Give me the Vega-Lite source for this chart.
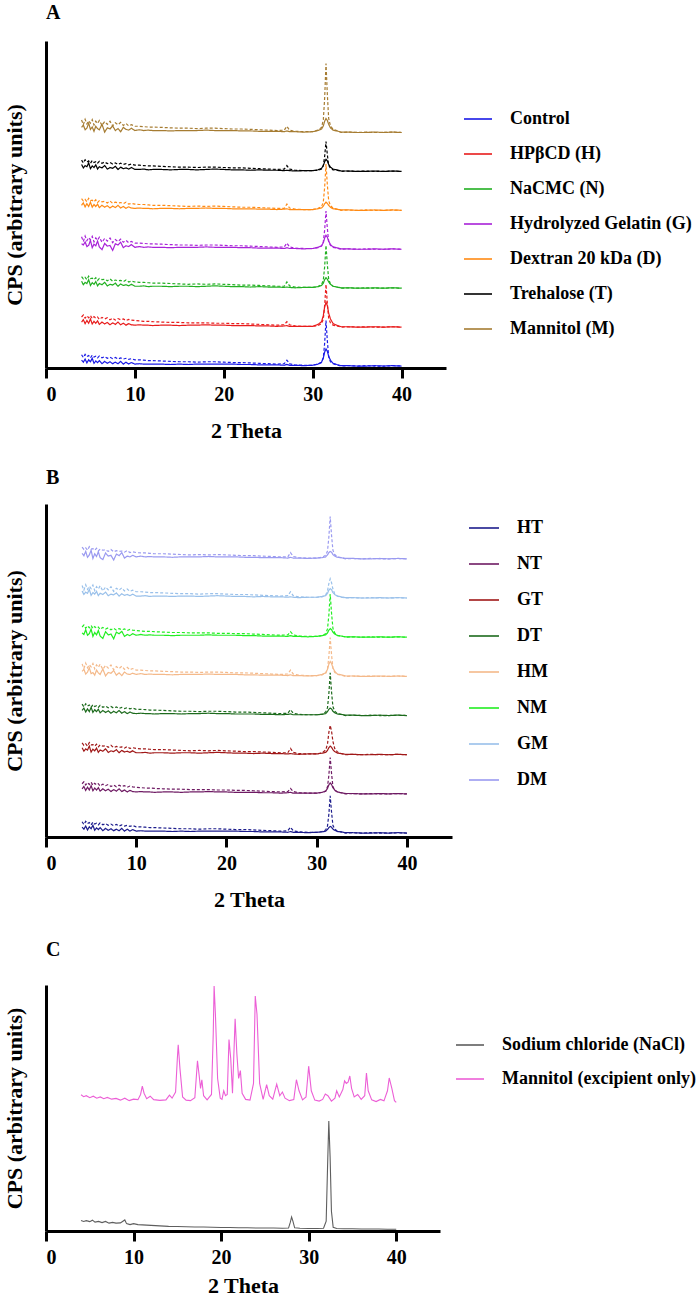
{
  "$schema": "https://vega.github.io/schema/vega-lite/v6.json",
  "padding": {"left": 3, "top": 3, "right": 0, "bottom": 0},
  "config": {
    "font": "Liberation Serif, Times New Roman, serif",
    "view": {"stroke": null},
    "axis": {
      "grid": false,
      "domainColor": "black", "domainWidth": 3,
      "tickColor": "black", "tickWidth": 3, "tickSize": 10,
      "labelFont": "Liberation Serif, Times New Roman, serif", "labelFontWeight": "bold", "labelFontSize": 20, "labelColor": "black", "labelPadding": 6,
      "titleFont": "Liberation Serif, Times New Roman, serif", "titleFontWeight": "bold", "titleFontSize": 22, "titleColor": "black"
    },
    "axisX": {"titlePadding": 16, "labelAngle": 0},
    "axisY": {"ticks": false, "labels": false, "titlePadding": 20},
    "legend": {
      "orient": "none",
      "symbolType": "stroke", "symbolStrokeWidth": 1.6,
      "labelFont": "Liberation Serif, Times New Roman, serif", "labelFontWeight": "bold", "labelFontSize": 18, "labelColor": "black",
      "labelOffset": 17, "labelLimit": 0
    },
    "title": {"font": "Liberation Serif, Times New Roman, serif", "fontSize": 20, "fontWeight": "bold", "anchor": "start", "frame": "group", "color": "black"}
  },
  "datasets": {
    "a": [
      {"sample": "Control",
       "t": [4,4.2,4.4,4.6,4.8,5,5.2,5.4,5.6,5.8,6,6.3,6.6,6.9,7.2,7.5,7.8,8.1,8.4,8.7,9,9.3,9.6,10,10.5,11,11.5,12,13,14,15,16,17,18,19,20,21,22,23,24,25,26,26.8,27.1,27.4,28,29,30,30.6,31,31.2,31.35,31.5,31.65,31.8,32,32.3,32.7,33.2,34,35,36,37,38,39,40],
       "solid": [2.0,1.5,2.3,1.3,2.1,1.6,2.5,1.2,1.8,1.4,1.9,1.1,1.7,1.2,1.6,1.1,1.5,1.1,1.7,1.0,1.5,1.0,1.4,1.0,1.1,1.0,1.0,1.0,1.0,0.9,1.0,0.9,1.0,1.0,1.0,1.0,1.0,0.9,0.9,0.8,0.8,0.8,0.7,0.9,0.7,0.7,0.6,0.7,1.0,1.5,2.6,4.1,4.9,4.3,3.0,2.0,1.2,0.9,0.6,0.6,0.5,0.5,0.6,0.5,0.6,0.5],
       "dashed": [3.4,2.7,3.5,2.9,3.2,2.6,3.3,2.8,3.0,2.6,3.1,2.6,2.9,2.5,2.8,2.4,2.7,2.3,2.6,2.3,2.5,2.2,2.4,2.1,2.1,2.0,1.9,1.9,1.8,1.7,1.6,1.6,1.5,1.6,1.6,1.5,1.4,1.4,1.3,1.2,1.1,1.0,1.1,2.0,1.1,0.8,0.7,0.7,1.0,1.4,2.7,6.4,12.2,7.0,2.9,1.6,1.1,0.8,0.5,0.6,0.5,0.6,0.5,0.5,0.6,0.5]},
      {"sample": "HPβCD (H)",
       "t": [4,4.2,4.4,4.6,4.8,5,5.2,5.4,5.6,5.8,6,6.3,6.6,6.9,7.2,7.5,7.8,8.1,8.4,8.7,9,9.3,9.6,10,10.5,11,11.5,12,13,14,15,16,17,18,19,20,21,22,23,24,25,26,26.8,27.1,27.4,28,29,30,30.6,31,31.2,31.35,31.5,31.65,31.8,32,32.3,32.7,33.2,34,35,36,37,38,39,40],
       "solid": [11.8,12.4,11.4,12.2,11.5,12.6,11.3,12.0,11.5,12.1,11.2,11.8,11.3,11.7,11.1,11.6,11.2,11.8,11.1,11.5,11.0,11.4,11.1,11.0,11.1,11.0,11.0,10.9,11.0,11.0,10.9,11.0,11.0,11.1,11.0,11.0,10.9,10.9,10.9,10.8,10.8,10.7,10.8,10.9,10.7,10.7,10.7,10.7,11.2,11.9,13.5,15.7,16.9,16.0,14.1,12.6,11.4,11.0,10.6,10.6,10.5,10.5,10.6,10.5,10.6,10.5],
       "dashed": [13.1,13.6,12.8,13.4,12.9,13.5,12.7,13.2,12.8,13.1,12.5,13.0,12.6,12.9,12.4,12.8,12.3,12.7,12.4,12.6,12.2,12.5,12.3,12.2,12.1,12.0,12.0,11.9,11.8,11.7,11.7,11.6,11.6,11.6,11.5,11.5,11.4,11.4,11.3,11.2,11.1,11.0,11.1,11.9,11.1,10.8,10.7,10.7,10.9,11.4,12.6,16.1,21.5,16.6,12.8,11.6,11.0,10.8,10.5,10.6,10.5,10.6,10.5,10.5,10.6,10.5]},
      {"sample": "NaCMC (N)",
       "t": [4,4.2,4.4,4.6,4.8,5,5.2,5.4,5.6,5.8,6,6.3,6.6,6.9,7.2,7.5,7.8,8.1,8.4,8.7,9,9.3,9.6,10,10.5,11,11.5,12,13,14,15,16,17,18,19,20,21,22,23,24,25,26,26.8,27.1,27.4,28,29,30,30.6,31,31.2,31.35,31.5,31.65,31.8,32,32.3,32.7,33.2,34,35,36,37,38,39,40],
       "solid": [22.3,21.4,22.0,21.7,22.7,21.2,21.9,21.5,22.2,21.1,21.7,21.4,22.0,21.1,21.5,21.3,21.8,21.0,21.6,21.2,21.4,21.1,21.5,21.0,21.0,21.1,20.9,21.0,21.0,20.9,21.0,21.0,20.9,21.0,21.1,21.0,20.9,20.9,20.8,20.9,20.8,20.8,20.7,20.8,20.7,20.6,20.7,20.7,20.9,21.2,21.8,22.7,23.2,22.8,22.1,21.5,21.0,20.8,20.6,20.6,20.5,20.5,20.6,20.5,20.6,20.5],
       "dashed": [23.5,22.9,23.3,22.7,23.6,23.0,23.1,22.7,23.2,22.5,23.0,22.7,22.8,22.4,22.9,22.3,22.6,22.4,22.5,22.2,22.6,22.1,22.3,22.1,22.0,22.0,21.9,21.8,21.8,21.7,21.6,21.5,21.6,21.5,21.6,21.5,21.4,21.3,21.3,21.2,21.1,21.0,21.0,22.1,21.1,20.8,20.7,20.7,20.9,21.4,22.6,26.1,31.5,26.6,22.8,21.6,21.0,20.8,20.5,20.6,20.5,20.6,20.5,20.5,20.6,20.5]},
      {"sample": "Hydrolyzed Gelatin (G)",
       "t": [4,4.2,4.4,4.6,4.8,5,5.2,5.4,5.6,5.8,6,6.3,6.6,6.9,7.2,7.5,7.8,8.1,8.4,8.7,9,9.3,9.6,10,10.5,11,11.5,12,13,14,15,16,17,18,19,20,21,22,23,24,25,26,26.8,27.1,27.4,28,29,30,30.6,31,31.2,31.35,31.5,31.65,31.8,32,32.3,32.7,33.2,34,35,36,37,38,39,40],
       "solid": [31.9,31.6,32.4,31.2,31.5,32.8,30.9,31.8,31.4,32.6,31.1,30.4,32.0,31.3,31.5,30.2,31.9,31.6,32.3,30.9,31.4,31.2,31.7,31.0,31.2,31.0,31.1,31.0,31.0,30.9,31.0,31.0,31.0,31.1,31.0,31.0,31.0,30.9,30.9,30.8,30.8,30.8,30.7,30.9,30.7,30.7,30.6,30.7,31.0,31.4,32.2,33.4,34.1,33.6,32.6,31.7,31.1,30.9,30.6,30.6,30.5,30.5,30.6,30.5,30.6,30.5],
       "dashed": [33.7,32.5,33.9,32.7,33.5,32.9,33.8,32.4,33.4,32.8,33.6,32.3,33.3,32.6,33.4,32.2,33.0,32.5,33.1,32.3,32.8,32.2,32.5,32.1,32.1,32.0,31.9,31.9,31.8,31.7,31.6,31.6,31.5,31.6,31.6,31.5,31.4,31.4,31.3,31.2,31.1,31.0,31.1,32.1,31.1,30.8,30.7,30.7,30.9,31.3,32.4,35.5,40.3,35.9,32.5,31.5,31.0,30.8,30.5,30.6,30.5,30.6,30.5,30.5,30.6,30.5]},
      {"sample": "Dextran 20 kDa (D)",
       "t": [4,4.2,4.4,4.6,4.8,5,5.2,5.4,5.6,5.8,6,6.3,6.6,6.9,7.2,7.5,7.8,8.1,8.4,8.7,9,9.3,9.6,10,10.5,11,11.5,12,13,14,15,16,17,18,19,20,21,22,23,24,25,26,26.8,27.1,27.4,28,29,30,30.6,31,31.2,31.35,31.5,31.65,31.8,32,32.3,32.7,33.2,34,35,36,37,38,39,40],
       "solid": [41.8,42.4,41.4,42.2,41.5,42.6,41.3,42.0,41.5,42.1,41.2,41.8,41.3,41.7,41.1,41.6,41.2,41.8,41.1,41.5,41.0,41.4,41.1,41.0,41.1,41.0,41.0,40.9,41.0,41.0,40.9,41.0,41.0,41.1,41.0,41.0,40.9,40.9,40.9,40.8,40.8,40.7,40.8,40.9,40.7,40.7,40.7,40.7,40.9,41.1,41.6,42.2,42.6,42.3,41.8,41.3,40.9,40.8,40.6,40.6,40.5,40.5,40.6,40.5,40.6,40.5],
       "dashed": [43.5,42.9,43.3,42.7,43.6,43.0,43.1,42.7,43.2,42.5,43.0,42.7,42.8,42.4,42.9,42.3,42.6,42.4,42.5,42.2,42.6,42.1,42.3,42.1,42.0,42.0,41.9,41.8,41.8,41.7,41.6,41.5,41.6,41.5,41.6,41.5,41.4,41.3,41.3,41.2,41.1,41.0,41.0,42.1,41.1,40.8,40.7,40.7,41.0,41.4,42.7,46.5,52.4,47.1,43.0,41.7,41.1,40.8,40.5,40.6,40.5,40.6,40.5,40.5,40.6,40.5]},
      {"sample": "Trehalose (T)",
       "t": [4,4.2,4.4,4.6,4.8,5,5.2,5.4,5.6,5.8,6,6.3,6.6,6.9,7.2,7.5,7.8,8.1,8.4,8.7,9,9.3,9.6,10,10.5,11,11.5,12,13,14,15,16,17,18,19,20,21,22,23,24,25,26,26.8,27.1,27.4,28,29,30,30.6,31,31.2,31.35,31.5,31.65,31.8,32,32.3,32.7,33.2,34,35,36,37,38,39,40],
       "solid": [52.3,51.4,52.0,51.7,52.7,51.2,51.9,51.5,52.2,51.1,51.7,51.4,52.0,51.1,51.5,51.3,51.8,51.0,51.6,51.2,51.4,51.1,51.5,51.0,51.0,51.1,50.9,51.0,51.0,50.9,51.0,51.0,50.9,51.0,51.1,51.0,50.9,50.9,50.8,50.9,50.8,50.8,50.7,50.8,50.7,50.6,50.7,50.7,50.9,51.3,52.0,53.0,53.6,53.2,52.3,51.6,51.1,50.9,50.6,50.6,50.5,50.5,50.6,50.5,50.6,50.5],
       "dashed": [53.4,52.7,53.5,52.9,53.2,52.6,53.3,52.8,53.0,52.6,53.1,52.6,52.9,52.5,52.8,52.4,52.7,52.3,52.6,52.3,52.5,52.2,52.4,52.1,52.1,52.0,51.9,51.9,51.8,51.7,51.6,51.6,51.5,51.6,51.6,51.5,51.4,51.4,51.3,51.2,51.1,51.0,51.1,52.0,51.1,50.8,50.7,50.7,50.8,51.1,52.0,54.4,58.2,54.8,52.1,51.3,50.9,50.8,50.5,50.6,50.5,50.6,50.5,50.5,50.6,50.5]},
      {"sample": "Mannitol (M)",
       "t": [4,4.2,4.4,4.6,4.8,5,5.2,5.4,5.6,5.8,6,6.3,6.6,6.9,7.2,7.5,7.8,8.1,8.4,8.7,9,9.3,9.6,10,10.5,11,11.5,12,13,14,15,16,17,18,19,20,21,22,23,24,25,26,26.8,27.1,27.4,28,29,30,30.6,31,31.2,31.35,31.5,31.65,31.8,32,32.3,32.7,33.2,34,35,36,37,38,39,40],
       "solid": [61.8,62.4,61.2,61.6,62.9,61.3,61.9,60.8,62.1,61.5,61.2,62.6,60.6,61.7,61.4,62.2,61.0,61.5,60.7,61.8,61.3,61.1,61.6,61.0,61.2,61.0,61.1,61.0,61.0,60.9,61.0,61.0,61.0,61.1,61.0,61.0,61.0,60.9,60.9,60.8,60.8,60.8,60.7,60.9,60.7,60.7,60.6,60.7,61.0,61.4,62.2,63.4,64.1,63.6,62.6,61.7,61.1,60.9,60.6,60.6,60.5,60.5,60.6,60.5,60.6,60.5],
       "dashed": [63.7,62.5,63.9,62.7,63.5,62.9,63.8,62.4,63.4,62.8,63.6,62.3,63.3,62.6,63.4,62.2,63.0,62.5,63.1,62.3,62.8,62.2,62.5,62.1,62.1,62.0,61.9,61.9,61.8,61.7,61.6,61.6,61.5,61.6,61.6,61.5,61.4,61.4,61.3,61.2,61.1,61.0,61.1,62.1,61.1,60.8,60.7,60.7,61.1,61.8,63.8,69.4,78.2,70.3,64.1,62.2,61.3,61.0,60.5,60.6,60.5,60.6,60.5,60.5,60.6,60.5]}
    ],
    "b": [
      {"sample": "HT",
       "t": [4,4.2,4.4,4.6,4.8,5,5.2,5.4,5.6,5.8,6,6.3,6.6,6.9,7.2,7.5,7.8,8.1,8.4,8.7,9,9.3,9.6,10,10.5,11,11.5,12,13,14,15,16,17,18,19,20,21,22,23,24,25,26,26.8,27.1,27.4,28,29,30,30.6,31,31.2,31.35,31.5,31.65,31.8,32,32.3,32.7,33.2,34,35,36,37,38,39,40],
       "solid": [2.5,2.0,2.8,1.8,2.6,2.1,3.0,1.7,2.3,1.9,2.4,1.6,2.2,1.7,2.1,1.6,2.0,1.6,2.2,1.5,2.0,1.5,1.9,1.5,1.6,1.5,1.5,1.5,1.5,1.4,1.5,1.4,1.5,1.5,1.5,1.5,1.5,1.4,1.4,1.3,1.3,1.3,1.2,1.4,1.2,1.2,1.1,1.2,1.3,1.5,1.9,2.4,2.7,2.5,2.0,1.7,1.4,1.3,1.1,1.1,1.0,1.0,1.1,1.0,1.1,1.0],
       "dashed": [3.9,3.2,4.0,3.4,3.7,3.1,3.8,3.3,3.5,3.1,3.6,3.1,3.4,3.0,3.3,2.9,3.2,2.8,3.1,2.8,3.0,2.7,2.9,2.6,2.6,2.5,2.4,2.4,2.3,2.2,2.1,2.1,2.0,2.1,2.1,2.0,1.9,1.9,1.8,1.7,1.6,1.5,1.6,2.5,1.6,1.3,1.2,1.2,1.4,1.8,2.8,5.8,10.5,6.3,3.0,2.0,1.5,1.3,1.0,1.1,1.0,1.1,1.0,1.0,1.1,1.0]},
      {"sample": "NT",
       "t": [4,4.2,4.4,4.6,4.8,5,5.2,5.4,5.6,5.8,6,6.3,6.6,6.9,7.2,7.5,7.8,8.1,8.4,8.7,9,9.3,9.6,10,10.5,11,11.5,12,13,14,15,16,17,18,19,20,21,22,23,24,25,26,26.8,27.1,27.4,28,29,30,30.6,31,31.2,31.35,31.5,31.65,31.8,32,32.3,32.7,33.2,34,35,36,37,38,39,40],
       "solid": [12.3,12.9,11.9,12.7,12.0,13.1,11.8,12.5,12.0,12.6,11.7,12.3,11.8,12.2,11.6,12.1,11.7,12.3,11.6,12.0,11.5,11.9,11.6,11.5,11.6,11.5,11.5,11.4,11.5,11.5,11.4,11.5,11.5,11.6,11.5,11.5,11.4,11.4,11.4,11.3,11.3,11.2,11.3,11.4,11.2,11.2,11.2,11.2,11.4,11.7,12.4,13.3,13.8,13.4,12.6,12.0,11.5,11.3,11.1,11.1,11.0,11.0,11.1,11.0,11.1,11.0],
       "dashed": [13.6,14.1,13.3,13.9,13.4,14.0,13.2,13.7,13.3,13.6,13.0,13.5,13.1,13.4,12.9,13.3,12.8,13.2,12.9,13.1,12.7,13.0,12.8,12.7,12.6,12.5,12.5,12.4,12.3,12.2,12.2,12.1,12.1,12.1,12.0,12.0,11.9,11.9,11.8,11.7,11.6,11.5,11.6,12.4,11.6,11.3,11.2,11.2,11.4,11.7,12.8,15.7,20.3,16.2,12.9,11.9,11.5,11.3,11.0,11.1,11.0,11.1,11.0,11.0,11.1,11.0]},
      {"sample": "GT",
       "t": [4,4.2,4.4,4.6,4.8,5,5.2,5.4,5.6,5.8,6,6.3,6.6,6.9,7.2,7.5,7.8,8.1,8.4,8.7,9,9.3,9.6,10,10.5,11,11.5,12,13,14,15,16,17,18,19,20,21,22,23,24,25,26,26.8,27.1,27.4,28,29,30,30.6,31,31.2,31.35,31.5,31.65,31.8,32,32.3,32.7,33.2,34,35,36,37,38,39,40],
       "solid": [22.8,21.9,22.5,22.2,23.2,21.7,22.4,22.0,22.7,21.6,22.2,21.9,22.5,21.6,22.0,21.8,22.3,21.5,22.1,21.7,21.9,21.6,22.0,21.5,21.5,21.6,21.4,21.5,21.5,21.4,21.5,21.5,21.4,21.5,21.6,21.5,21.4,21.4,21.3,21.4,21.3,21.3,21.2,21.3,21.2,21.1,21.2,21.2,21.4,21.6,22.1,22.8,23.2,22.9,22.3,21.8,21.4,21.3,21.1,21.1,21.0,21.0,21.1,21.0,21.1,21.0],
       "dashed": [24.0,23.4,23.8,23.2,24.1,23.5,23.6,23.2,23.7,23.0,23.5,23.2,23.3,22.9,23.4,22.8,23.1,22.9,23.0,22.7,23.1,22.6,22.8,22.6,22.5,22.5,22.4,22.3,22.3,22.2,22.1,22.0,22.1,22.0,22.1,22.0,21.9,21.8,21.8,21.7,21.6,21.5,21.5,22.6,21.6,21.3,21.2,21.2,21.5,22.2,23.7,26.7,28.5,27.0,24.4,22.6,21.7,21.3,21.0,21.1,21.0,21.1,21.0,21.0,21.1,21.0]},
      {"sample": "DT",
       "t": [4,4.2,4.4,4.6,4.8,5,5.2,5.4,5.6,5.8,6,6.3,6.6,6.9,7.2,7.5,7.8,8.1,8.4,8.7,9,9.3,9.6,10,10.5,11,11.5,12,13,14,15,16,17,18,19,20,21,22,23,24,25,26,26.8,27.1,27.4,28,29,30,30.6,31,31.2,31.35,31.5,31.65,31.8,32,32.3,32.7,33.2,34,35,36,37,38,39,40],
       "solid": [32.3,32.9,31.9,32.7,32.0,33.1,31.8,32.5,32.0,32.6,31.7,32.3,31.8,32.2,31.6,32.1,31.7,32.3,31.6,32.0,31.5,31.9,31.6,31.5,31.6,31.5,31.5,31.4,31.5,31.5,31.4,31.5,31.5,31.6,31.5,31.5,31.4,31.4,31.4,31.3,31.3,31.2,31.3,31.4,31.2,31.2,31.2,31.2,31.3,31.5,32.0,32.6,32.9,32.7,32.1,31.7,31.4,31.3,31.1,31.1,31.0,31.0,31.1,31.0,31.1,31.0],
       "dashed": [33.9,33.2,34.0,33.4,33.7,33.1,33.8,33.3,33.5,33.1,33.6,33.1,33.4,33.0,33.3,32.9,33.2,32.8,33.1,32.8,33.0,32.7,32.9,32.6,32.6,32.5,32.4,32.4,32.3,32.2,32.1,32.1,32.0,32.1,32.1,32.0,31.9,31.9,31.8,31.7,31.6,31.5,31.6,32.5,31.6,31.3,31.2,31.2,31.4,31.9,33.0,36.5,41.9,37.0,33.3,32.1,31.5,31.3,31.0,31.1,31.0,31.1,31.0,31.0,31.1,31.0]},
      {"sample": "HM",
       "t": [4,4.2,4.4,4.6,4.8,5,5.2,5.4,5.6,5.8,6,6.3,6.6,6.9,7.2,7.5,7.8,8.1,8.4,8.7,9,9.3,9.6,10,10.5,11,11.5,12,13,14,15,16,17,18,19,20,21,22,23,24,25,26,26.8,27.1,27.4,28,29,30,30.6,31,31.2,31.35,31.5,31.65,31.8,32,32.3,32.7,33.2,34,35,36,37,38,39,40],
       "solid": [42.3,42.8,41.6,42.1,43.2,41.7,42.0,41.3,42.6,41.9,41.5,42.9,41.1,42.0,41.8,42.5,41.3,41.9,41.2,42.1,41.6,41.5,41.8,41.5,41.7,41.5,41.6,41.5,41.5,41.4,41.5,41.5,41.5,41.6,41.5,41.5,41.5,41.4,41.4,41.3,41.3,41.3,41.2,41.4,41.2,41.2,41.1,41.2,41.5,41.9,42.8,44.1,44.8,44.3,43.2,42.3,41.6,41.4,41.1,41.1,41.0,41.0,41.1,41.0,41.1,41.0],
       "dashed": [44.2,43.0,44.4,43.2,44.0,43.4,44.3,42.9,43.9,43.3,44.1,42.8,43.8,43.1,43.9,42.7,43.5,43.0,43.6,42.8,43.3,42.7,43.0,42.6,42.6,42.5,42.4,42.4,42.3,42.2,42.1,42.1,42.0,42.1,42.1,42.0,41.9,41.9,41.8,41.7,41.6,41.5,41.6,42.6,41.6,41.3,41.2,41.2,41.4,41.8,42.9,46.0,50.9,46.5,43.1,42.0,41.5,41.3,41.0,41.1,41.0,41.1,41.0,41.0,41.1,41.0]},
      {"sample": "NM",
       "t": [4,4.2,4.4,4.6,4.8,5,5.2,5.4,5.6,5.8,6,6.3,6.6,6.9,7.2,7.5,7.8,8.1,8.4,8.7,9,9.3,9.6,10,10.5,11,11.5,12,13,14,15,16,17,18,19,20,21,22,23,24,25,26,26.8,27.1,27.4,28,29,30,30.6,31,31.2,31.35,31.5,31.65,31.8,32,32.3,32.7,33.2,34,35,36,37,38,39,40],
       "solid": [52.1,51.7,52.9,51.5,51.9,53.1,51.2,52.2,51.6,52.7,51.3,50.7,52.4,51.6,51.8,50.6,52.3,51.9,52.5,51.2,51.7,51.4,51.9,51.5,51.7,51.5,51.6,51.5,51.5,51.4,51.5,51.5,51.5,51.6,51.5,51.5,51.5,51.4,51.4,51.3,51.3,51.3,51.2,51.4,51.2,51.2,51.1,51.2,51.4,51.6,52.1,52.8,53.2,52.9,52.3,51.8,51.4,51.3,51.1,51.1,51.0,51.0,51.1,51.0,51.1,51.0],
       "dashed": [53.6,54.1,53.3,53.9,53.4,54.0,53.2,53.7,53.3,53.6,53.0,53.5,53.1,53.4,52.9,53.3,52.8,53.2,52.9,53.1,52.7,53.0,52.8,52.7,52.6,52.5,52.5,52.4,52.3,52.2,52.2,52.1,52.1,52.1,52.0,52.0,51.9,51.9,51.8,51.7,51.6,51.5,51.6,52.4,51.6,51.3,51.2,51.2,51.4,51.9,53.1,56.6,62.0,57.1,53.3,52.1,51.5,51.3,51.0,51.1,51.0,51.1,51.0,51.0,51.1,51.0]},
      {"sample": "GM",
       "t": [4,4.2,4.4,4.6,4.8,5,5.2,5.4,5.6,5.8,6,6.3,6.6,6.9,7.2,7.5,7.8,8.1,8.4,8.7,9,9.3,9.6,10,10.5,11,11.5,12,13,14,15,16,17,18,19,20,21,22,23,24,25,26,26.8,27.1,27.4,28,29,30,30.6,31,31.2,31.35,31.5,31.65,31.8,32,32.3,32.7,33.2,34,35,36,37,38,39,40],
       "solid": [62.8,61.9,62.5,62.2,63.2,61.7,62.4,62.0,62.7,61.6,62.2,61.9,62.5,61.6,62.0,61.8,62.3,61.5,62.1,61.7,61.9,61.6,62.0,61.5,61.5,61.6,61.4,61.5,61.5,61.4,61.5,61.5,61.4,61.5,61.6,61.5,61.4,61.4,61.3,61.4,61.3,61.3,61.2,61.3,61.2,61.1,61.2,61.2,61.4,61.6,62.2,63.0,63.4,63.1,62.4,61.9,61.5,61.3,61.1,61.1,61.0,61.0,61.1,61.0,61.1,61.0],
       "dashed": [64.2,63.0,64.4,63.2,64.0,63.4,64.3,62.9,63.9,63.3,64.1,62.8,63.8,63.1,63.9,62.7,63.5,63.0,63.6,62.8,63.3,62.7,63.0,62.6,62.6,62.5,62.4,62.4,62.3,62.2,62.1,62.1,62.0,62.1,62.1,62.0,61.9,61.9,61.8,61.7,61.6,61.5,61.6,62.6,61.6,61.3,61.2,61.2,61.3,61.8,62.8,64.7,65.9,64.9,63.3,62.1,61.5,61.2,61.0,61.1,61.0,61.1,61.0,61.0,61.1,61.0]},
      {"sample": "DM",
       "t": [4,4.2,4.4,4.6,4.8,5,5.2,5.4,5.6,5.8,6,6.3,6.6,6.9,7.2,7.5,7.8,8.1,8.4,8.7,9,9.3,9.6,10,10.5,11,11.5,12,13,14,15,16,17,18,19,20,21,22,23,24,25,26,26.8,27.1,27.4,28,29,30,30.6,31,31.2,31.35,31.5,31.65,31.8,32,32.3,32.7,33.2,34,35,36,37,38,39,40],
       "solid": [72.4,71.8,72.9,71.4,72.0,73.2,71.1,72.3,71.6,72.8,71.3,70.8,72.5,71.7,71.9,70.7,72.2,71.8,72.6,71.2,71.7,71.5,71.9,71.5,71.7,71.5,71.6,71.5,71.5,71.4,71.5,71.5,71.5,71.6,71.5,71.5,71.5,71.4,71.4,71.3,71.3,71.3,71.2,71.4,71.2,71.2,71.1,71.2,71.3,71.5,72.0,72.6,72.9,72.7,72.1,71.7,71.4,71.3,71.1,71.1,71.0,71.0,71.1,71.0,71.1,71.0],
       "dashed": [74.0,73.4,73.8,73.2,74.1,73.5,73.6,73.2,73.7,73.0,73.5,73.2,73.3,72.9,73.4,72.8,73.1,72.9,73.0,72.7,73.1,72.6,72.8,72.6,72.5,72.5,72.4,72.3,72.3,72.2,72.1,72.0,72.1,72.0,72.1,72.0,71.9,71.8,71.8,71.7,71.6,71.5,71.5,72.6,71.6,71.3,71.2,71.2,71.4,71.9,73.0,76.5,81.8,77.0,73.2,72.1,71.5,71.3,71.0,71.1,71.0,71.1,71.0,71.0,71.1,71.0]}
    ],
    "c": [
      {"sample": "Sodium chloride (NaCl)",
       "t": [4,4.3,4.6,5,5.3,5.6,6,6.4,6.8,7.2,7.6,8,8.5,9,9.2,9.6,10,10.5,11,12,13,14,15,16,17,18,19,20,21,22,23,24,25,26,27,27.7,27.9,28.05,28.2,28.4,29,30,31,31.7,32,32.15,32.3,32.45,32.6,32.8,33.2,34,35,36,37,38,39,40],
       "cps": [4.3,3.9,4.2,3.8,4.4,3.6,3.9,3.4,3.9,3.2,3.5,3.2,3.3,4.5,3.0,2.6,3.0,2.6,2.5,2.3,2.1,1.9,1.8,1.7,1.6,1.6,1.5,1.4,1.4,1.3,1.3,1.2,1.2,1.2,1.1,1.2,3.5,5.7,4.0,1.3,1.1,1.0,1.0,1.1,4.0,25.0,44.7,30.0,8.0,1.5,1.0,0.9,0.9,0.8,0.8,0.8,0.7,0.7]},
      {"sample": "Mannitol (excipient only)",
       "t": [4,4.3,4.6,5,5.4,5.8,6.2,6.6,7,7.5,8,8.5,9,9.5,10,10.5,10.8,11,11.2,11.5,11.9,12.3,13,13.7,14.1,14.4,14.8,15,15.1,15.3,15.6,16,16.5,17,17.3,17.5,17.65,17.8,18,18.4,18.9,19.1,19.2,19.35,19.6,19.9,20.1,20.3,20.5,20.7,20.9,21.1,21.3,21.6,21.8,22,22.2,22.4,22.8,23.3,23.7,23.9,24.1,24.4,24.8,25.2,25.5,25.9,26.35,26.7,27,27.3,27.8,28.3,28.6,28.9,29.3,29.7,30,30.3,30.7,31.2,31.6,31.9,32.2,32.6,33,33.2,33.5,33.9,34.1,34.3,34.5,34.7,34.9,35.2,35.6,36,36.4,36.6,36.8,37.2,37.7,38.2,38.6,39,39.2,39.5,39.8,40],
       "cps": [55.4,54.6,55.0,54.2,54.8,54.0,54.5,53.8,54.3,53.6,53.9,53.2,54.0,53.0,53.6,53.4,55.5,58.9,56.0,53.8,54.8,53.4,53.1,53.3,55.2,54.0,56.5,70.0,75.7,66.0,54.5,53.2,53.0,54.2,69.2,63.0,58.0,61.5,55.0,53.3,55.5,80.0,99.6,88.0,62.0,54.0,53.5,57.0,55.0,55.5,77.8,70.0,56.0,86.3,72.0,62.0,65.2,56.0,53.5,53.2,60.0,95.5,88.0,60.0,53.5,59.5,55.0,53.6,59.7,55.0,56.5,54.0,53.0,53.4,61.5,57.0,53.3,54.5,67.0,57.0,53.2,52.8,53.5,55.7,55.0,52.8,54.0,57.0,54.5,57.5,61.0,60.0,60.5,63.0,58.0,54.5,55.5,53.5,55.0,64.2,57.0,53.3,52.6,53.5,52.9,57.0,62.2,58.0,53.0,52.3]}
    ]
  },
  "vconcat": [
    {
      "vconcat": [
        {
          "width": 400, "height": 327,
          "title": {"text": "A", "offset": 18},
          "data": {"name": "a"},
          "transform": [{"flatten": ["t", "solid", "dashed"]}, {"fold": ["solid", "dashed"], "as": ["scan", "cps"]}],
          "mark": {"type": "line", "strokeWidth": 1.2},
          "encoding": {
            "x": {"field": "t", "type": "quantitative", "scale": {"domain": [0, 45], "nice": false}, "axis": {"values": [0, 10, 20, 30, 40], "title": "2 Theta"}},
            "y": {"field": "cps", "type": "quantitative", "scale": {"domain": [0, 84], "nice": false}, "axis": {"title": "CPS (arbitrary units)"}},
            "color": {"field": "sample", "type": "nominal",
              "scale": {"domain": ["Control", "HPβCD (H)", "NaCMC (N)", "Hydrolyzed Gelatin (G)", "Dextran 20 kDa (D)", "Trehalose (T)", "Mannitol (M)"],
                        "range": ["#1a1ae6", "#e81c1c", "#22b022", "#a822d8", "#ff8a14", "#000000", "#a67c32"]},
              "legend": {"title": null, "legendX": 417, "legendY": 63, "rowPadding": 11, "symbolSize": 784}},
            "strokeDash": {"field": "scan", "type": "nominal", "scale": {"domain": ["solid", "dashed"], "range": [[1, 0], [3, 2]]}, "legend": null}
          }
        },
        {
          "width": 406, "height": 333,
          "title": {"text": "B", "offset": 16},
          "data": {"name": "b"},
          "transform": [{"flatten": ["t", "solid", "dashed"]}, {"fold": ["solid", "dashed"], "as": ["scan", "cps"]}],
          "mark": {"type": "line", "strokeWidth": 1.2},
          "encoding": {
            "x": {"field": "t", "type": "quantitative", "scale": {"domain": [0, 45], "nice": false}, "axis": {"values": [0, 10, 20, 30, 40], "title": "2 Theta"}},
            "y": {"field": "cps", "type": "quantitative", "scale": {"domain": [0, 85], "nice": false}, "axis": {"title": "CPS (arbitrary units)"}},
            "color": {"field": "sample", "type": "nominal",
              "scale": {"domain": ["HT", "NT", "GT", "DT", "HM", "NM", "GM", "DM"],
                        "range": ["#1c1c8c", "#6e1a63", "#a01818", "#1d6b1d", "#f4b98a", "#22ee22", "#99c0ea", "#9a9af0"]},
              "legend": {"title": null, "legendX": 422, "legendY": 8, "rowPadding": 11, "symbolSize": 900}},
            "strokeDash": {"field": "scan", "type": "nominal", "scale": {"domain": ["solid", "dashed"], "range": [[1, 0], [3, 2]]}, "legend": null}
          }
        }
      ],
      "spacing": 27,
      "resolve": {"scale": {"x": "independent", "y": "independent", "color": "independent", "strokeDash": "independent"}}
    },
    {
      "width": 394, "height": 246,
      "title": {"text": "C", "offset": 24},
      "data": {"name": "c"},
      "transform": [{"flatten": ["t", "cps"]}],
      "mark": {"type": "line", "strokeWidth": 1.1},
      "encoding": {
        "x": {"field": "t", "type": "quantitative", "scale": {"domain": [0, 45], "nice": false}, "axis": {"values": [0, 10, 20, 30, 40], "title": "2 Theta", "titlePadding": 8}},
        "y": {"field": "cps", "type": "quantitative", "scale": {"domain": [0, 100], "nice": false}, "axis": {"title": "CPS (arbitrary units)"}},
        "color": {"field": "sample", "type": "nominal",
          "scale": {"domain": ["Sodium chloride (NaCl)", "Mannitol (excipient only)"], "range": ["#5e5e5e", "#ec5fd6"]},
          "legend": {"title": null, "legendX": 409, "legendY": 45, "rowPadding": 10, "symbolSize": 784}}
      }
    }
  ],
  "spacing": 29,
  "resolve": {"scale": {"x": "independent", "y": "independent", "color": "independent", "strokeDash": "independent"}}
}
